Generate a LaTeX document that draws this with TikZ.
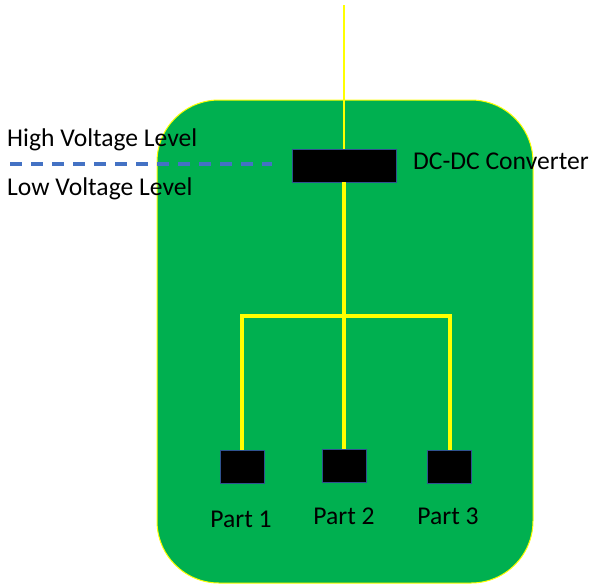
\documentclass[tikz,border=0pt]{standalone}
\usepackage{fontspec}
\setmainfont{Carlito}
\definecolor{pgreen}{HTML}{00B050}
\definecolor{pyellow}{HTML}{FFFF00}
\definecolor{pblue}{HTML}{4472C4}
\definecolor{pborder}{HTML}{2F528F}
\begin{document}
\begin{tikzpicture}[x=1pt,y=-1pt,
  blk/.style={draw=pborder,line width=0.8pt,fill=black,inner sep=0pt,minimum width=44pt,minimum height=33pt},
  lbl/.style={font=\fontsize{25.6}{30}\selectfont,inner sep=0pt},
  wire/.style={pyellow,line width=4pt}]
\useasboundingbox (0,0) rectangle (592,587);
\fill[white] (0,0) rectangle (592,587);
\node[draw=pyellow,line width=1pt,fill=pgreen,rounded corners=62pt,minimum width=376pt,minimum height=483pt,inner sep=0pt] (board) at (345,341.5) {};
\node[blk,minimum width=104pt] (conv) at (344,165.5) {};
\node[blk] (p1) at (242,466.5) {};
\node[blk] (p2) at (344,465.5) {};
\node[blk] (p3) at (449.5,467) {};
\coordinate (top) at (344,5);
\coordinate (j) at (344,316);
\coordinate (jl) at (242,316);
\coordinate (jr) at (449.5,316);
\draw[pyellow,line width=1.2pt] (top) -- (conv.north);
\draw[wire] (conv.south) -- (j);
\draw[wire] (p1.north) -- (jl) -- (jr) -- (p3.north);
\draw[wire] (j) -- (p2.north);
\coordinate (d1) at (10,164);
\coordinate (d2) at (272,164);
\draw[pblue,line width=3.2pt,dash pattern=on 12pt off 9pt] (d1) -- (d2);
\node[lbl,anchor=west] (hv) at (7,140) {High Voltage Level};
\node[lbl,anchor=west] (lv) at (7,189) {Low Voltage Level};
\node[lbl,anchor=west] (dc) at (413,161) {DC-DC Converter};
\node[lbl] (l1) at (241,519) {Part 1};
\node[lbl] (l2) at (344,516) {Part 2};
\node[lbl] (l3) at (448,516) {Part 3};
\end{tikzpicture}
\end{document}
